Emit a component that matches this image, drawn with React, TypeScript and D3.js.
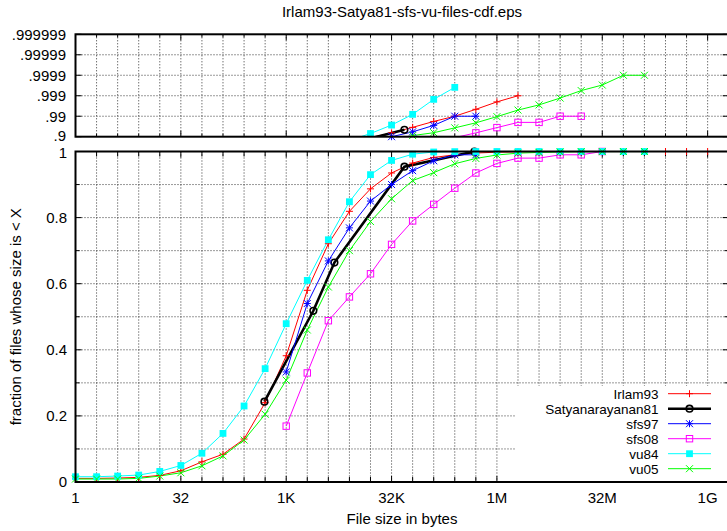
import React from 'react';
import * as d3 from 'd3';

// ---------- data ----------
const pow2Sizes = d3.range(0, 31).map((k) => Math.pow(2, k)); // x categories 1 .. 1G
const xTickLabels = ['1', '32', '1K', '32K', '1M', '32M', '1G'];
const xTickValues = [1, 32, 1024, 32768, 1048576, 33554432, 1073741824];
const lowerYTicks = [0, 0.2, 0.4, 0.6, 0.8, 1];
const lowerYTickLabels = ['0', '0.2', '0.4', '0.6', '0.8', '1'];
const upperYTicks = [1, 2, 3, 4, 5, 6];
const upperYTickLabels = ['.9', '.99', '.999', '.9999', '.99999', '.999999'];

const irlam93Start = 0;
const irlam93 = [0.011, 0.011, 0.012, 0.014, 0.02, 0.034, 0.061, 0.084, 0.13, 0.24, 0.382, 0.58, 0.721, 0.819, 0.887, 0.935, 0.965, 0.982, 0.99, 0.9954, 0.998, 0.999, 1, 1, 1, 1, 1, 1, 1, 1, 1];

const satyaSizes = [500, 2500, 5000, 50000, 500000];
const satya81 = [0.243, 0.518, 0.664, 0.954, 1.0];

const sfs97Start = 10;
const sfs97 = [0.333, 0.54, 0.669, 0.769, 0.85, 0.9, 0.942, 0.972, 0.99, 0.99];

const sfs08Start = 10;
const sfs08 = [0.169, 0.33, 0.488, 0.56, 0.63, 0.719, 0.79, 0.84, 0.889, 0.935, 0.964, 0.98, 0.98, 0.99, 0.99, 1.0];

const vu84Start = 0;
const vu84 = [0.016, 0.016, 0.018, 0.021, 0.032, 0.05, 0.087, 0.147, 0.23, 0.343, 0.479, 0.61, 0.733, 0.848, 0.93, 0.973, 0.9919, 0.9985, 0.99961, 1, 1, 1, 1, 1, 1, 1, 1, 1];

const vu05Start = 0;
const vu05 = [0.009, 0.009, 0.009, 0.011, 0.018, 0.028, 0.049, 0.079, 0.127, 0.205, 0.308, 0.46, 0.59, 0.7, 0.788, 0.857, 0.912, 0.936, 0.963, 0.979, 0.9895, 0.995, 0.9972, 0.9987, 0.99944, 0.9997, 0.9999, 0.9999];

type Pt = { x: number; p: number };
const fromPow = (start: number, vals: number[]): Pt[] =>
  vals.map((p, i) => ({ x: pow2Sizes[start + i], p }));

const series = [
  { name: 'Irlam93', color: '#ff0000', marker: 'plus', width: 1, pts: fromPow(irlam93Start, irlam93) },
  { name: 'Satyanarayanan81', color: '#000000', marker: 'circle', width: 2.6, pts: satyaSizes.map((x, i) => ({ x, p: satya81[i] })) },
  { name: 'sfs97', color: '#0000ff', marker: 'star', width: 1, pts: fromPow(sfs97Start, sfs97) },
  { name: 'sfs08', color: '#ff00ff', marker: 'osquare', width: 1, pts: fromPow(sfs08Start, sfs08) },
  { name: 'vu84', color: '#00ffff', marker: 'fsquare', width: 1, pts: fromPow(vu84Start, vu84) },
  { name: 'vu05', color: '#00ff00', marker: 'cross', width: 1, pts: fromPow(vu05Start, vu05) },
];

// ---------- layout ----------
const W = 727;
const H = 531;
const FONT = '"Liberation Sans", Arial, Helvetica, sans-serif';
const FS = 15;
const LEGEND_FS = 13.5;

const x = d3.scaleLog().base(2).domain([1, Math.pow(2, 31)]).range([75.5, 728.7]);
const yLow = d3.scaleLinear().domain([0, 1]).range([482, 151.5]);
const yUp = d3.scaleLinear().domain([1, 6]).range([136.7, 34.3]);
const L = (p: number) => -Math.log10(1 - p);

function Marker({ type, cx, cy, color }: { type: string; cx: number; cy: number; color: string }) {
  const s = 3.5;
  if (type === 'plus')
    return <path d={`M${cx - s},${cy}H${cx + s}M${cx},${cy - s}V${cy + s}`} stroke={color} strokeWidth={1} fill="none" />;
  if (type === 'cross')
    return <path d={`M${cx - s},${cy - s}L${cx + s},${cy + s}M${cx - s},${cy + s}L${cx + s},${cy - s}`} stroke={color} strokeWidth={1} fill="none" />;
  if (type === 'star')
    return <path d={`M${cx - s},${cy}H${cx + s}M${cx},${cy - s}V${cy + s}M${cx - s},${cy - s}L${cx + s},${cy + s}M${cx - s},${cy + s}L${cx + s},${cy - s}`} stroke={color} strokeWidth={1} fill="none" />;
  if (type === 'circle')
    return <circle cx={cx} cy={cy} r={3.3} stroke={color} strokeWidth={1.6} fill="none" />;
  if (type === 'osquare')
    return <rect x={cx - 3.2} y={cy - 3.2} width={6.4} height={6.4} stroke={color} strokeWidth={1} fill="none" />;
  return <rect x={cx - 3.4} y={cy - 3.4} width={6.8} height={6.8} fill={color} />;
}

export default function App() {
  const xl = x.range()[0];
  const xr = x.range()[1];
  const gridK = d3.range(1, 31);
  const lowLine = d3
    .line<Pt>()
    .x((d) => x(d.x))
    .y((d) => yLow(d.p));
  const upLine = d3
    .line<Pt>()
    .defined((d) => d.p < 1)
    .x((d) => x(d.x))
    .y((d) => yUp(L(d.p)));

  const gridStyle = { stroke: '#333', strokeWidth: 1, strokeDasharray: '1,2', fill: 'none' } as const;

  const panelTicks = (yTop: number, yBot: number, major: number, minor: number, key: string) =>
    pow2Sizes.slice(1).map((v, i) => {
      const isMajor = xTickValues.includes(v);
      const len = isMajor ? major : minor;
      const px = x(v);
      return (
        <g key={key + i}>
          <line x1={px} x2={px} y1={yBot} y2={yBot - len} stroke="#000" strokeWidth={1} />
          <line x1={px} x2={px} y1={yTop} y2={yTop + len} stroke="#000" strokeWidth={1} />
        </g>
      );
    });

  const legendY0 = 398.5;
  return (
    <svg width={W} height={H} style={{ position: 'absolute', left: 0, top: 0, background: '#fff' }} fontFamily={FONT}>
      <defs>
        <clipPath id="clipLow">
          <rect x={xl} y={yLow(1)} width={xr - xl} height={yLow(0) - yLow(1)} />
        </clipPath>
        <clipPath id="clipUp">
          <rect x={xl} y={yUp(6)} width={xr - xl} height={yUp(1) - yUp(6)} />
        </clipPath>
      </defs>
      <rect x={0} y={0} width={W} height={H} fill="#fff" />

      {/* title */}
      <text x={402} y={17} fontSize={FS} textAnchor="middle">Irlam93-Satya81-sfs-vu-files-cdf.eps</text>

      {/* ---------- upper panel ---------- */}
      {gridK.map((k) => (
        <line key={'ugv' + k} x1={x(pow2Sizes[k])} x2={x(pow2Sizes[k])} y1={yUp(6)} y2={yUp(1)} style={gridStyle} />
      ))}
      {[2, 3, 4, 5].map((v) => (
        <line key={'ugh' + v} x1={xl} x2={xr} y1={yUp(v)} y2={yUp(v)} style={gridStyle} />
      ))}
      {panelTicks(yUp(6), yUp(1), 6, 3, 'ut')}
      {upperYTicks.map((v, i) => (
        <g key={'uyt' + v}>
          <line x1={xl} x2={xl + 6} y1={yUp(v)} y2={yUp(v)} stroke="#000" />
          <line x1={xr} x2={xr - 6} y1={yUp(v)} y2={yUp(v)} stroke="#000" />
          <text x={66} y={yUp(v) - (v === 1 ? 1.3 : 0)} dy="0.36em" fontSize={FS} textAnchor="end">{upperYTickLabels[i]}</text>
        </g>
      ))}
      <g clipPath="url(#clipUp)">
        {series.map((s) => (
          <path key={'ul' + s.name} d={upLine(s.pts) || ''} stroke={s.color} strokeWidth={s.width} fill="none" />
        ))}
      </g>
      {series.map((s) =>
        s.pts
          .filter((d) => d.p < 1 && L(d.p) >= 1 - 1e-9 && L(d.p) <= 6)
          .map((d, i) => <Marker key={'um' + s.name + i} type={s.marker} cx={x(d.x)} cy={yUp(L(d.p))} color={s.color} />)
      )}
      <rect x={xl} y={yUp(6)} width={xr - xl} height={yUp(1) - yUp(6)} fill="none" stroke="#000" strokeWidth={2} />

      {/* ---------- lower panel ---------- */}
      {gridK.map((k) => (
        <line key={'lgv' + k} x1={x(pow2Sizes[k])} x2={x(pow2Sizes[k])} y1={yLow(1)} y2={yLow(0)} style={gridStyle} />
      ))}
      {d3.range(1, 10).map((i) => (
        <line key={'lgh' + i} x1={xl} x2={xr} y1={yLow(i / 10)} y2={yLow(i / 10)} style={gridStyle} />
      ))}
      {panelTicks(yLow(1), yLow(0), 6, 5, 'lt')}
      {d3.range(0, 11).map((i) => {
        const major = i % 2 === 0;
        const len = major ? 6 : 4;
        return (
          <g key={'lyt' + i}>
            <line x1={xl} x2={xl + len} y1={yLow(i / 10)} y2={yLow(i / 10)} stroke="#000" />
            <line x1={xr} x2={xr - len} y1={yLow(i / 10)} y2={yLow(i / 10)} stroke="#000" />
          </g>
        );
      })}
      {lowerYTicks.map((v, i) => (
        <text key={'lyl' + v} x={67} y={yLow(v) + (v === 1 ? 1.3 : 0)} dy="0.36em" fontSize={FS} textAnchor="end">{lowerYTickLabels[i]}</text>
      ))}
      {xTickValues.map((v, i) => (
        <text key={'xl' + v} x={x(v)} y={503.3} fontSize={FS} textAnchor="middle">{xTickLabels[i]}</text>
      ))}

      {/* opaque key box */}
      <rect x={516} y={386} width={xr - 516 - 1} height={yLow(0) - 386 - 1} fill="#fff" />
      {series.map((s, i) => {
        const by = legendY0 + i * 15;
        const ly = by - 4.8;
        return (
          <g key={'lg' + s.name}>
            <text x={658.5} y={by} fontSize={LEGEND_FS} textAnchor="end">{s.name}</text>
            <line x1={668} x2={711} y1={ly} y2={ly} stroke={s.color} strokeWidth={s.width} />
            <Marker type={s.marker} cx={689.5} cy={ly} color={s.color} />
          </g>
        );
      })}

      <g clipPath="url(#clipLow)">
        {series.map((s) => (
          <path key={'ll' + s.name} d={lowLine(s.pts) || ''} stroke={s.color} strokeWidth={s.width} fill="none" />
        ))}
      </g>
      {series.map((s) =>
        s.pts.map((d, i) => <Marker key={'lm' + s.name + i} type={s.marker} cx={x(d.x)} cy={yLow(d.p)} color={s.color} />)
      )}
      <rect x={xl} y={yLow(1)} width={xr - xl} height={yLow(0) - yLow(1)} fill="none" stroke="#000" strokeWidth={2} />

      {/* axis titles */}
      <text x={402} y={524} fontSize={FS} textAnchor="middle">File size in bytes</text>
      <text transform={`translate(21,${(yLow(0) + yLow(1)) / 2}) rotate(-90)`} fontSize={FS} textAnchor="middle">fraction of files whose size is &lt; X</text>
    </svg>
  );
}
